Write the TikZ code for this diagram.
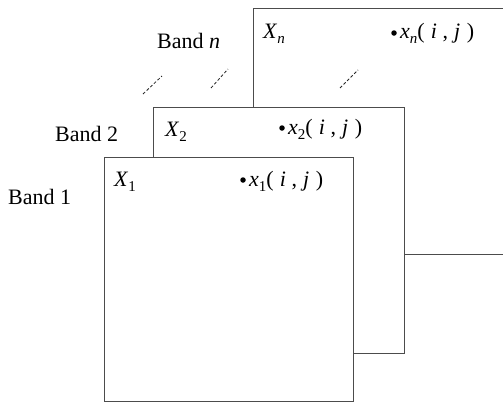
\documentclass[tikz,border=0pt]{standalone}
\usepackage{fontspec}
\setmainfont{Liberation Serif}
% subscript set by hand in the text font
\newcommand\subidx[1]{\raisebox{-0.5ex}{\fontsize{15}{15}\selectfont #1}}
% a pixel value x_k(i,j)
\newcommand\pixval[1]{\textit{x}\subidx{#1}(\hspace{0.28em}\textit{i}\hspace{0.25em},\hspace{0.28em}\textit{j}\hspace{0.3em})}
\begin{document}
\begin{tikzpicture}[x=1pt,y=-1pt,
  band/.style={draw=black!70, line width=0.8pt, fill=white},
  lbl/.style={font=\fontsize{22}{26}\selectfont, inner sep=0pt, anchor=base west},
  gap/.style={draw=black!85, line width=0.8pt, dash pattern=on 3pt off 2pt},
  dot/.style={circle, fill=black, inner sep=0pt, minimum size=5.5pt}]
\useasboundingbox (0,0) rectangle (503,402);
\clip (0,0) rectangle (503,402);

% stacked band images, back to front
\draw[band] (253,8) rectangle (512,254);
\draw[band] (153,107) rectangle (404,353);
\draw[band] (104,157) rectangle (353,401);

% ellipsis marks between band 2 and band n
\draw[gap] (143,94) -- (162,76);
\draw[gap] (211,88) -- (228,69);
\draw[gap] (340,88) -- (358,70);

% band names
\node[lbl] (bn) at (157,48) {Band \textit{n}};
\node[lbl] (b2) at (55,141) {Band 2};
\node[lbl] (b1) at (8,204) {Band 1};

% image names
\node[lbl] (xn) at (263,38) {\textit{X}\subidx{\textit{n}}};
\node[lbl] (x2) at (165,136) {\textit{X}\subidx{2}};
\node[lbl] (x1) at (114,186) {\textit{X}\subidx{1}};

% pixel values
\node[dot] (dn) at (394,33) {};
\node[lbl] (pn) at (400,38) {\pixval{\textit{n}}};
\node[dot] (d2) at (282,128) {};
\node[lbl] (p2) at (288,134) {\pixval{2}};
\node[dot] (d1) at (243,180) {};
\node[lbl] (p1) at (249,186) {\pixval{1}};
\end{tikzpicture}
\end{document}
